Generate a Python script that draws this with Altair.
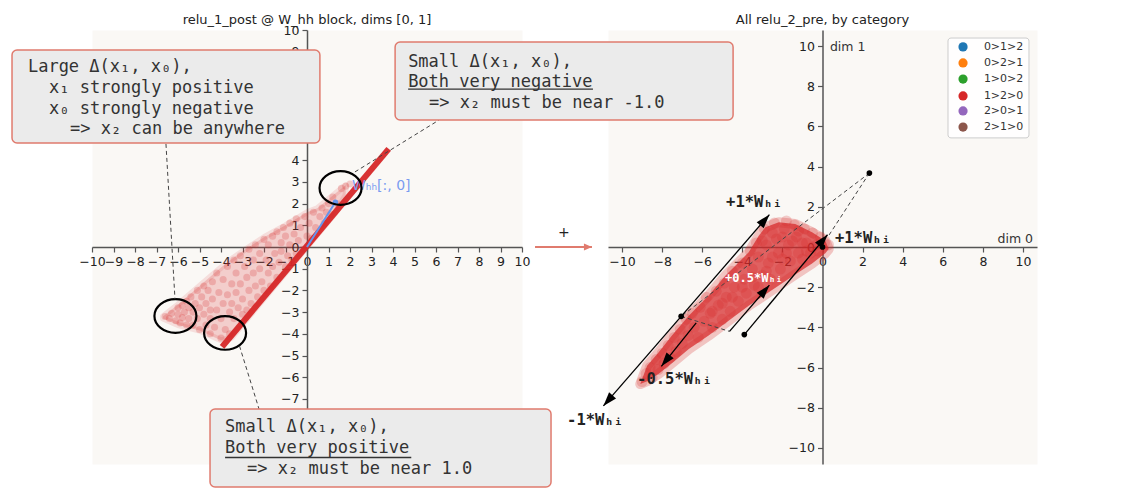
import math
import altair as alt
import pandas as pd

# ---------------- data ----------------
categories = ["0>1>2", "0>2>1", "1>0>2", "1>2>0", "2>0>1", "2>1>0"]
category_colors = ["#1f77b4", "#ff7f0e", "#2ca02c", "#d62728", "#9467bd", "#8c564b"]
left_ticks = [-10, -9, -8, -7, -6, -5, -4, -3, -2, -1, 0, 1, 2, 3, 4, 5, 6, 7, 8, 9, 10]
right_ticks = [-10, -8, -6, -4, -2, 0, 2, 4, 6, 8, 10]

# left panel: relu_1_post @ W_hh block
band_x = [-3.95, 3.80]
band_y = [-4.60, 4.52]
fan_x = [-6.7, -6.0, -5.0, -4.0, -3.5, -3.0, -2.0, -1.0, 0.0, 0.5, 1.3, 1.8]
fan_hi = [-3.2, -2.65, -1.8, -0.95, -0.55, -0.2, 0.45, 1.0, 1.6, 1.8, 2.45, 2.85]
fan_lo = [-3.3, -3.6, -3.85, -4.3, -4.17, -3.57, -2.38, -1.19, 0.0, 0.6, 1.55, 2.4]
cloud1_x = [
    -6.6, -6.4, -6.3, -6.1, -6.0, -6.0, -5.9, -5.8, -5.8, -5.7, -5.6, -5.6, -5.5, -5.5,
    -5.4, -5.3, -5.3, -5.2, -5.1, -5.1, -5.0, -5.0, -4.9, -4.8, -4.8, -4.7, -4.7, -4.6, -4.5, -4.5, -4.5,
    -4.4, -4.4, -4.3, -4.2, -4.2, -4.1, -4.0, -4.0, -3.9, -3.9, -3.8, -3.7, -3.7, -3.6, -3.6, -3.5, -3.5,
    -3.4, -3.4, -3.3, -3.3, -3.2, -3.1, -3.1, -3.0, -3.0, -2.9, -2.8, -2.8, -2.7, -2.7, -2.6, -2.5, -2.5,
    -2.4, -2.4, -2.3, -2.2, -2.2, -2.1, -2.0, -2.0, -1.9, -1.8, -1.8, -1.7, -1.6, -1.6, -1.5,
    -1.4, -1.4, -1.3, -1.2, -1.2, -1.1, -1.0, -1.0, -0.9, -0.8, -0.8, -0.7, -0.6,
    -0.5, -0.5, -0.4, -0.3, -0.2, -0.1, 0.0, 0.1, 0.2, 0.3, 0.4,
    0.6, 0.7, 0.8, 0.9, 1.0, 1.1, 1.2, 1.4, 1.6, 1.8, 2.0]
cloud1_y = [
    -3.2, -3.3, -3.05, -3.4, -3.1, -2.8, -3.5, -3.25, -2.7, -3.0, -3.6, -2.5, -3.3, -2.8,
    -2.3, -3.0, -3.6, -2.6, -2.0, -3.3, -2.8, -3.8, -2.3, -3.1, -1.8, -3.6, -2.6, -2.0, -3.3, -4.0, -2.9,
    -1.6, -2.4, -3.7, -1.2, -2.9, -2.1, -3.3, -4.2, -1.5, -2.6, -3.8, -0.9, -2.2, -3.0, -4.0, -1.7, -2.6,
    -0.6, -3.3, -1.2, -2.1, -2.8, -0.4, -1.7, -2.4, -3.1, -0.9, -1.4, -2.9, -0.1, -2.0, -2.6, -0.6, -1.2,
    -1.8, 0.1, -2.3, -0.3, -1.0, -1.6, 0.35, -2.0, -0.6, -1.2, 0.1, -1.8, 0.5, -0.9, -0.3,
    -1.4, 0.7, -0.7, 0.2, -0.2, 0.9, -0.9, 0.5, -0.4, 1.1, 0.1, -0.6, 0.6,
    1.3, -0.3, 0.3, 0.9, -0.1, 1.4, 0.5, 1.1, 0.4, 1.6, 0.9,
    1.4, 1.8, 1.1, 1.6, 2.0, 1.5, 2.3, 2.0, 2.7, 2.8, 2.9]
whh_x = [0.0, 1.32]
whh_y = [0.0, 2.06]
whh_label = "Wₕₕ[:, 0]"
whh_label_x = [2.09]
whh_label_y = [2.81]
circle_x = [1.56, -6.12, -3.81]
circle_y = [2.72, -3.18, -3.96]
link_x0 = [-6.56, 2.23, -3.14]
link_y0 = [4.75, 3.46, -4.56]
link_x1 = [-6.14, 6.14, -2.23]
link_y1 = [-2.40, 5.85, -7.47]

# annotation boxes (left panel coordinates)
lbox_x0 = [-13.72, -4.51]
lbox_x1 = [0.60, 11.35]
lbox_y0 = [9.08, -7.47]
lbox_y1 = [4.79, -11.06]
box1_lines = ["Large Δ(x₁, x₀),", "x₁ strongly positive", "x₀ strongly negative", "=> x₂ can be anywhere"]
box1_x = [-12.98, -12.0, -12.0, -11.02]
box1_y = [8.28, 7.33, 6.38, 5.46]
box3_lines = ["Small Δ(x₁, x₀),", "Both very positive", "=> x₂ must be near 1.0"]
box3_x = [-3.81, -3.81, -2.79]
box3_y = [-8.29, -9.26, -10.23]
box3_ul_x = [-3.81, 4.85]
box3_ul_y = [-9.70]

# right panel: relu_2_pre (outline of the dense cloud + individual points)
edge_x = [-9.09, -8.75, -8.17, -7.51, -6.67, -5.68, -4.85, -4.35, -3.68, -3.18, -2.85, -2.18, -1.36, -0.52, 0.14, 0.31]
edge_hi = [-6.82, -5.91, -5.24, -4.41, -3.42, -2.42, -1.43, -0.93, -0.26, 0.56, 0.98, 1.23, 1.14, 0.73, 0.31, -0.10]
edge_lo = [-6.82, -6.68, -6.31, -5.78, -5.08, -4.41, -3.80, -3.42, -2.92, -2.59, -2.37, -1.92, -1.37, -0.82, -0.31, -0.10]
cloud2_x = [-9.0, -8.8, -8.6, -8.5, -8.3, -8.2, -8.0, -7.9, -7.7, -7.6, -7.4, -7.3, -7.1, -7.0, -6.8,
            -6.7, -6.5, -6.4, -6.2, -6.1, -5.9, -5.8, -5.6, -5.5, -5.3, -5.2, -5.0, -4.9, -4.8, -4.6,
            -4.5, -4.4, -4.2, -4.0, -3.9, -3.8, -3.6, -3.5, -3.4, -3.3, -3.2, -3.0, -2.9, -2.8, -2.7,
            -2.6, -2.4, -2.3, -2.2, -2.1, -1.9, -1.8, -1.7, -1.6, -1.4, -1.3, -1.2, -1.0, -0.9, -0.8,
            -0.6, -0.5, -0.3, -0.1, 0.1, 0.3, -0.2,
            -3.0, -2.5, -2.0, -1.5, -1.0, -0.5, -2.5, -2.0, -1.2, -3.5, -2.8, -4.0, -4.5, -5.0, -5.5,
            -3.2, -1.8, -0.8]
cloud2_y = [-6.7, -6.3, -6.0, -6.5, -5.6, -6.1, -5.3, -5.8, -4.9, -5.5, -4.5, -5.2, -4.1, -4.8, -3.6,
            -4.4, -3.3, -4.0, -4.5, -3.0, -3.7, -2.5, -3.3, -4.0, -2.2, -2.9, -3.6, -1.8, -2.5, -3.2,
            -1.2, -2.0, -2.7, -0.8, -1.6, -2.3, -0.2, -1.1, -1.9, 0.2, -0.5, -1.4, 0.9, 0.1, -0.8,
            -1.6, 1.2, 0.4, -0.3, -1.1, 0.9, 1.3, 0.1, -0.7, 1.1, 0.5, -0.3, -0.6, 0.9, 0.2,
            -0.3, 0.7, 0.1, 0.5, 0.2, 0.1, -0.2,
            0.3, 0.7, 0.5, 0.3, 0.2, 0.0, -0.5, -0.6, 0.8, -1.5, -1.2, -2.0, -2.5, -2.8, -3.2,
            -2.0, -0.3, -0.2]
dot_x = [-7.05, -3.90, 2.34, 0.0]
dot_y = [-3.45, -4.36, 3.68, 0.0]
arrow_x0 = [-7.05, -7.05, -3.90, -4.64, -6.30]
arrow_y0 = [-3.45, -3.45, -4.36, -4.20, -3.78]
arrow_x1 = [-2.65, -10.93, 0.25, -2.65, -8.04]
arrow_y1 = [1.61, -7.91, 0.61, -1.90, -5.94]
dash_x0 = [2.34, 2.34, -7.05]
dash_y0 = [3.68, 3.68, -3.45]
dash_x1 = [-7.05, 0.33, -4.64]
dash_y1 = [-3.45, 0.60, -4.20]
vec_text = ["+1*Wₕᵢ", "-1*Wₕᵢ", "+1*Wₕᵢ", "-0.5*Wₕᵢ"]
vec_x = [-4.81, -12.74, 0.62, -9.25]
vec_y = [2.24, -8.61, 0.45, -6.57]
half_text = ["+0.5*Wₕᵢ"]
half_x = [-3.42]
half_y = [-1.54]

# legend inside the right panel (right panel coordinates)
legend_box_x = [6.26, 10.30]
legend_box_y = [10.40, 5.43]
legend_sym_x = 7.01
legend_lab_x = 8.05
legend_row_y = [9.96, 9.16, 8.36, 7.52, 6.77, 5.97]

# box 2 (right panel coordinates, it overlaps both panels)
rbox_x0 = [-21.32]
rbox_x1 = [-4.46]
rbox_y0 = [10.2]
rbox_y1 = [6.32]
box2_lines = ["Small Δ(x₁, x₀),", "Both very negative", "=> x₂ must be near -1.0"]
box2_x = [-20.67, -20.67, -19.63]
box2_y = [9.21, 8.23, 7.17]
box2_ul_x = [-20.67, -11.45]
box2_ul_y = [7.86]

plus_x = [-14.34, -11.5]
plus_y = [0.0]
plus_label_x = [-12.9]
plus_label_y = [0.72]

# ---------------- styling ----------------
BG = "#faf8f5"
RED = "#d62728"
SALMON = "#e07b6e"
BOXFILL = "#ebebeb"
ELLIPSE = "M-1,0A1,0.8,0,1,1,1,0A1,0.8,0,1,1,-1,0Z"
HEAD = "M0,0L-0.33,1L0.33,1Z"
HEAD_WIDE = "M0,0L-0.45,1L0.45,1Z"
MONO = "DejaVu Sans Mono"
SANS = "DejaVu Sans"

axis_style = dict(title=None, grid=False, domainColor="#555555", domainWidth=1.5,
                  tickColor="#555555", tickWidth=1.2, tickSize=5, labelFont=SANS,
                  labelFontSize=12.5, labelColor="#222222", labelOverlap=False,
                  labelFlush=False, labelPadding=3)

LW, LH = 430, 434
RW, RH = 429, 434
lxs = alt.Scale(domain=[-10, 10], nice=False, zero=False)
lys = alt.Scale(domain=[-10, 10], nice=False, zero=False)
rxs = alt.Scale(domain=[-10.7, 10.7], nice=False, zero=False)
rys = alt.Scale(domain=[-10.8, 10.8], nice=False, zero=False)
lxa = alt.Axis(values=left_ticks, orient="bottom", offset=-217, **axis_style)
lya = alt.Axis(values=left_ticks, orient="left", offset=-215, **axis_style)
rxa = alt.Axis(values=right_ticks, orient="bottom", offset=-217, **axis_style)
rya = alt.Axis(values=right_ticks, orient="left", offset=-214.5, **axis_style)


def LX(f):
    return alt.X(f, type="quantitative", scale=lxs, axis=lxa)


def LY(f):
    return alt.Y(f, type="quantitative", scale=lys, axis=lya)


def RX(f):
    return alt.X(f, type="quantitative", scale=rxs, axis=rxa)


def RY(f):
    return alt.Y(f, type="quantitative", scale=rys, axis=rya)


def angles(x0, y0, x1, y1):
    return [(math.degrees(math.atan2(b - a, d - c)) + 360) % 360
            for a, b, c, d in zip(x0, x1, y0, y1)]


# ---------------- left panel ----------------
df_fan = pd.DataFrame({"x": fan_x, "hi": fan_hi, "lo": fan_lo})
df_c1 = pd.DataFrame({"x": cloud1_x, "y": cloud1_y})
df_band = pd.DataFrame({"x": band_x, "y": band_y})
df_whh = pd.DataFrame({"x": whh_x, "y": whh_y})
df_whh_end = df_whh.tail(1)
df_whh_lab = pd.DataFrame({"x": whh_label_x, "y": whh_label_y, "t": [whh_label]})
df_circ = pd.DataFrame({"x": circle_x, "y": circle_y})
df_link = pd.DataFrame({"x": link_x0, "y": link_y0, "x2": link_x1, "y2": link_y1})
df_lbox = pd.DataFrame({"x": lbox_x0, "x2": lbox_x1, "y": lbox_y0, "y2": lbox_y1})
df_ltext = pd.DataFrame({"x": box1_x + box3_x, "y": box1_y + box3_y, "t": box1_lines + box3_lines})
df_lul = pd.DataFrame({"x": [box3_ul_x[0]], "x2": [box3_ul_x[1]], "y": box3_ul_y})
df_ltitle = pd.DataFrame({"t": ["relu_1_post @ W_hh block, dims [0, 1]"]})

left = alt.layer(
    alt.Chart(df_fan).mark_area(color=RED, fillOpacity=0.2, stroke=RED, strokeOpacity=0.12,
                                strokeWidth=6, strokeJoin="round").encode(x=LX("x"), y=LY("hi"), y2="lo:Q"),
    alt.Chart(df_c1).mark_circle(size=50, color=RED, opacity=0.22).encode(x=LX("x"), y=LY("y")),
    alt.Chart(df_band).mark_line(color=RED, strokeWidth=6, opacity=0.95).encode(x=LX("x"), y=LY("y")),
    alt.Chart(df_whh).mark_line(color="#6495ed", strokeWidth=2).encode(x=LX("x"), y=LY("y")),
    alt.Chart(df_whh_end).mark_circle(color="#6495ed", size=30, opacity=1).encode(x=LX("x"), y=LY("y")),
    alt.Chart(df_whh_lab).mark_text(align="left", baseline="middle", font=SANS, fontSize=14,
                                    color="#7a9cf0").encode(x=LX("x"), y=LY("y"), text="t:N"),
    alt.Chart(df_circ).mark_point(shape=ELLIPSE, size=1764, filled=False, color="black",
                                  strokeWidth=2.2, opacity=1).encode(x=LX("x"), y=LY("y")),
    alt.Chart(df_link).mark_rule(color="#444444", strokeWidth=1, strokeDash=[4, 3]).encode(
        x=LX("x"), y=LY("y"), x2="x2:Q", y2="y2:Q"),
    alt.Chart(df_lbox).mark_rect(fill=BOXFILL, stroke=SALMON, strokeWidth=1.5, cornerRadius=5).encode(
        x=LX("x"), x2="x2:Q", y=LY("y"), y2="y2:Q"),
    alt.Chart(df_ltext).mark_text(align="left", baseline="middle", font=MONO, fontSize=17,
                                  color="#333333").encode(x=LX("x"), y=LY("y"), text="t:N"),
    alt.Chart(df_lul).mark_rule(color="#333333", strokeWidth=1.3).encode(x=LX("x"), x2="x2:Q", y=LY("y")),
    alt.Chart(df_ltitle).mark_text(align="center", baseline="middle", font=SANS, fontSize=13,
                                   color="#222222").encode(x=alt.value(LW / 2), y=alt.value(-10.5), text="t:N"),
).properties(width=LW, height=LH)

# ---------------- right panel ----------------
df_edge = pd.DataFrame({"x": edge_x, "hi": edge_hi, "lo": edge_lo})
df_c2 = pd.DataFrame({"x": cloud2_x, "y": cloud2_y})
df_dash = pd.DataFrame({"x": dash_x0, "y": dash_y0, "x2": dash_x1, "y2": dash_y1})
df_shaft = pd.DataFrame({"x": arrow_x0, "y": arrow_y0, "x2": arrow_x1, "y2": arrow_y1})
df_head = pd.DataFrame({"x": arrow_x1, "y": arrow_y1,
                        "ang": angles(arrow_x0, arrow_y0, arrow_x1, arrow_y1)})
df_dot = pd.DataFrame({"x": dot_x, "y": dot_y})
df_vec = pd.DataFrame({"x": vec_x, "y": vec_y, "t": vec_text})
df_half = pd.DataFrame({"x": half_x, "y": half_y, "t": half_text})
df_dim0 = pd.DataFrame({"x": [10.5], "y": [0.4], "t": ["dim 0"]})
df_dim1 = pd.DataFrame({"x": [0.37], "y": [9.95], "t": ["dim 1"]})
df_legbox = pd.DataFrame({"x": [legend_box_x[0]], "x2": [legend_box_x[1]],
                          "y": [legend_box_y[0]], "y2": [legend_box_y[1]]})
df_leg = pd.DataFrame({"sx": [legend_sym_x] * len(categories), "lx": [legend_lab_x] * len(categories),
                       "y": legend_row_y, "cat": categories})
df_rbox = pd.DataFrame({"x": rbox_x0, "x2": rbox_x1, "y": rbox_y0, "y2": rbox_y1})
df_rtext = pd.DataFrame({"x": box2_x, "y": box2_y, "t": box2_lines})
df_rul = pd.DataFrame({"x": [box2_ul_x[0]], "x2": [box2_ul_x[1]], "y": box2_ul_y})
df_plus = pd.DataFrame({"x": [plus_x[0]], "x2": [plus_x[1]], "y": plus_y})
df_plus_head = pd.DataFrame({"x": [plus_x[1]], "y": plus_y, "ang": [90.0]})
df_plus_lab = pd.DataFrame({"x": plus_label_x, "y": plus_label_y, "t": ["+"]})
df_rtitle = pd.DataFrame({"t": ["All relu_2_pre, by category"]})

cat_color = alt.Color("cat:N", scale=alt.Scale(domain=categories, range=category_colors), legend=None)

right = alt.layer(
    alt.Chart(df_edge).mark_area(color=RED, fillOpacity=0.72, stroke=RED, strokeOpacity=0.25,
                                 strokeWidth=10, strokeJoin="round").encode(x=RX("x"), y=RY("hi"), y2="lo:Q"),
    alt.Chart(df_c2).mark_circle(size=120, opacity=0.22, color=RED).encode(x=RX("x"), y=RY("y")),
    alt.Chart(df_dash).mark_rule(color="#444444", strokeWidth=1, strokeDash=[4, 3]).encode(
        x=RX("x"), y=RY("y"), x2="x2:Q", y2="y2:Q"),
    alt.Chart(df_shaft).mark_rule(color="black", strokeWidth=1.3).encode(
        x=RX("x"), y=RY("y"), x2="x2:Q", y2="y2:Q"),
    alt.Chart(df_head).mark_point(shape=HEAD, size=784, filled=True, color="black", opacity=1).encode(
        x=RX("x"), y=RY("y"), angle=alt.Angle("ang:Q", scale=None)),
    alt.Chart(df_dot).mark_circle(size=32, color="black", opacity=1).encode(x=RX("x"), y=RY("y")),
    alt.Chart(df_vec).mark_text(align="left", baseline="middle", font=MONO, fontSize=15.5,
                                fontWeight="bold", color="#222222").encode(x=RX("x"), y=RY("y"), text="t:N"),
    alt.Chart(df_half).mark_text(align="center", baseline="middle", font=MONO, fontSize=12,
                                 fontWeight="bold", color="white").encode(x=RX("x"), y=RY("y"), text="t:N"),
    alt.Chart(df_dim0).mark_text(align="right", baseline="middle", font=SANS, fontSize=12.5,
                                 color="#333333").encode(x=RX("x"), y=RY("y"), text="t:N"),
    alt.Chart(df_dim1).mark_text(align="left", baseline="middle", font=SANS, fontSize=12.5,
                                 color="#333333").encode(x=RX("x"), y=RY("y"), text="t:N"),
    alt.Chart(df_legbox).mark_rect(fill="white", fillOpacity=0.85, stroke="#cccccc", strokeWidth=1,
                                   cornerRadius=3).encode(x=RX("x"), x2="x2:Q", y=RY("y"), y2="y2:Q"),
    alt.Chart(df_leg).mark_circle(size=85, opacity=1).encode(x=RX("sx"), y=RY("y"), color=cat_color),
    alt.Chart(df_leg).mark_text(align="left", baseline="middle", font=SANS, fontSize=11,
                                color="#333333").encode(x=RX("lx"), y=RY("y"), text="cat:N"),
    alt.Chart(df_plus).mark_rule(color=SALMON, strokeWidth=2).encode(x=RX("x"), x2="x2:Q", y=RY("y")),
    alt.Chart(df_plus_head).mark_point(shape=HEAD_WIDE, size=256, filled=True, color=SALMON, opacity=1).encode(
        x=RX("x"), y=RY("y"), angle=alt.Angle("ang:Q", scale=None)),
    alt.Chart(df_plus_lab).mark_text(align="center", baseline="middle", font=SANS, fontSize=14,
                                     color="#222222").encode(x=RX("x"), y=RY("y"), text="t:N"),
    alt.Chart(df_rbox).mark_rect(fill=BOXFILL, stroke=SALMON, strokeWidth=1.5, cornerRadius=5).encode(
        x=RX("x"), x2="x2:Q", y=RY("y"), y2="y2:Q"),
    alt.Chart(df_rtext).mark_text(align="left", baseline="middle", font=MONO, fontSize=17,
                                  color="#333333").encode(x=RX("x"), y=RY("y"), text="t:N"),
    alt.Chart(df_rul).mark_rule(color="#333333", strokeWidth=1.3).encode(x=RX("x"), x2="x2:Q", y=RY("y")),
    alt.Chart(df_rtitle).mark_text(align="center", baseline="middle", font=SANS, fontSize=13,
                                   color="#222222").encode(x=alt.value(RW / 2), y=alt.value(-10.5), text="t:N"),
).properties(width=RW, height=RH)

chart = alt.hconcat(left, right, spacing=86, bounds="flush").configure_view(
    fill=BG, stroke="transparent"
).properties(padding={"left": 2, "top": 5, "right": 5, "bottom": 5})

chart.save("out.html", embed_options={"renderer": "svg", "actions": False})
